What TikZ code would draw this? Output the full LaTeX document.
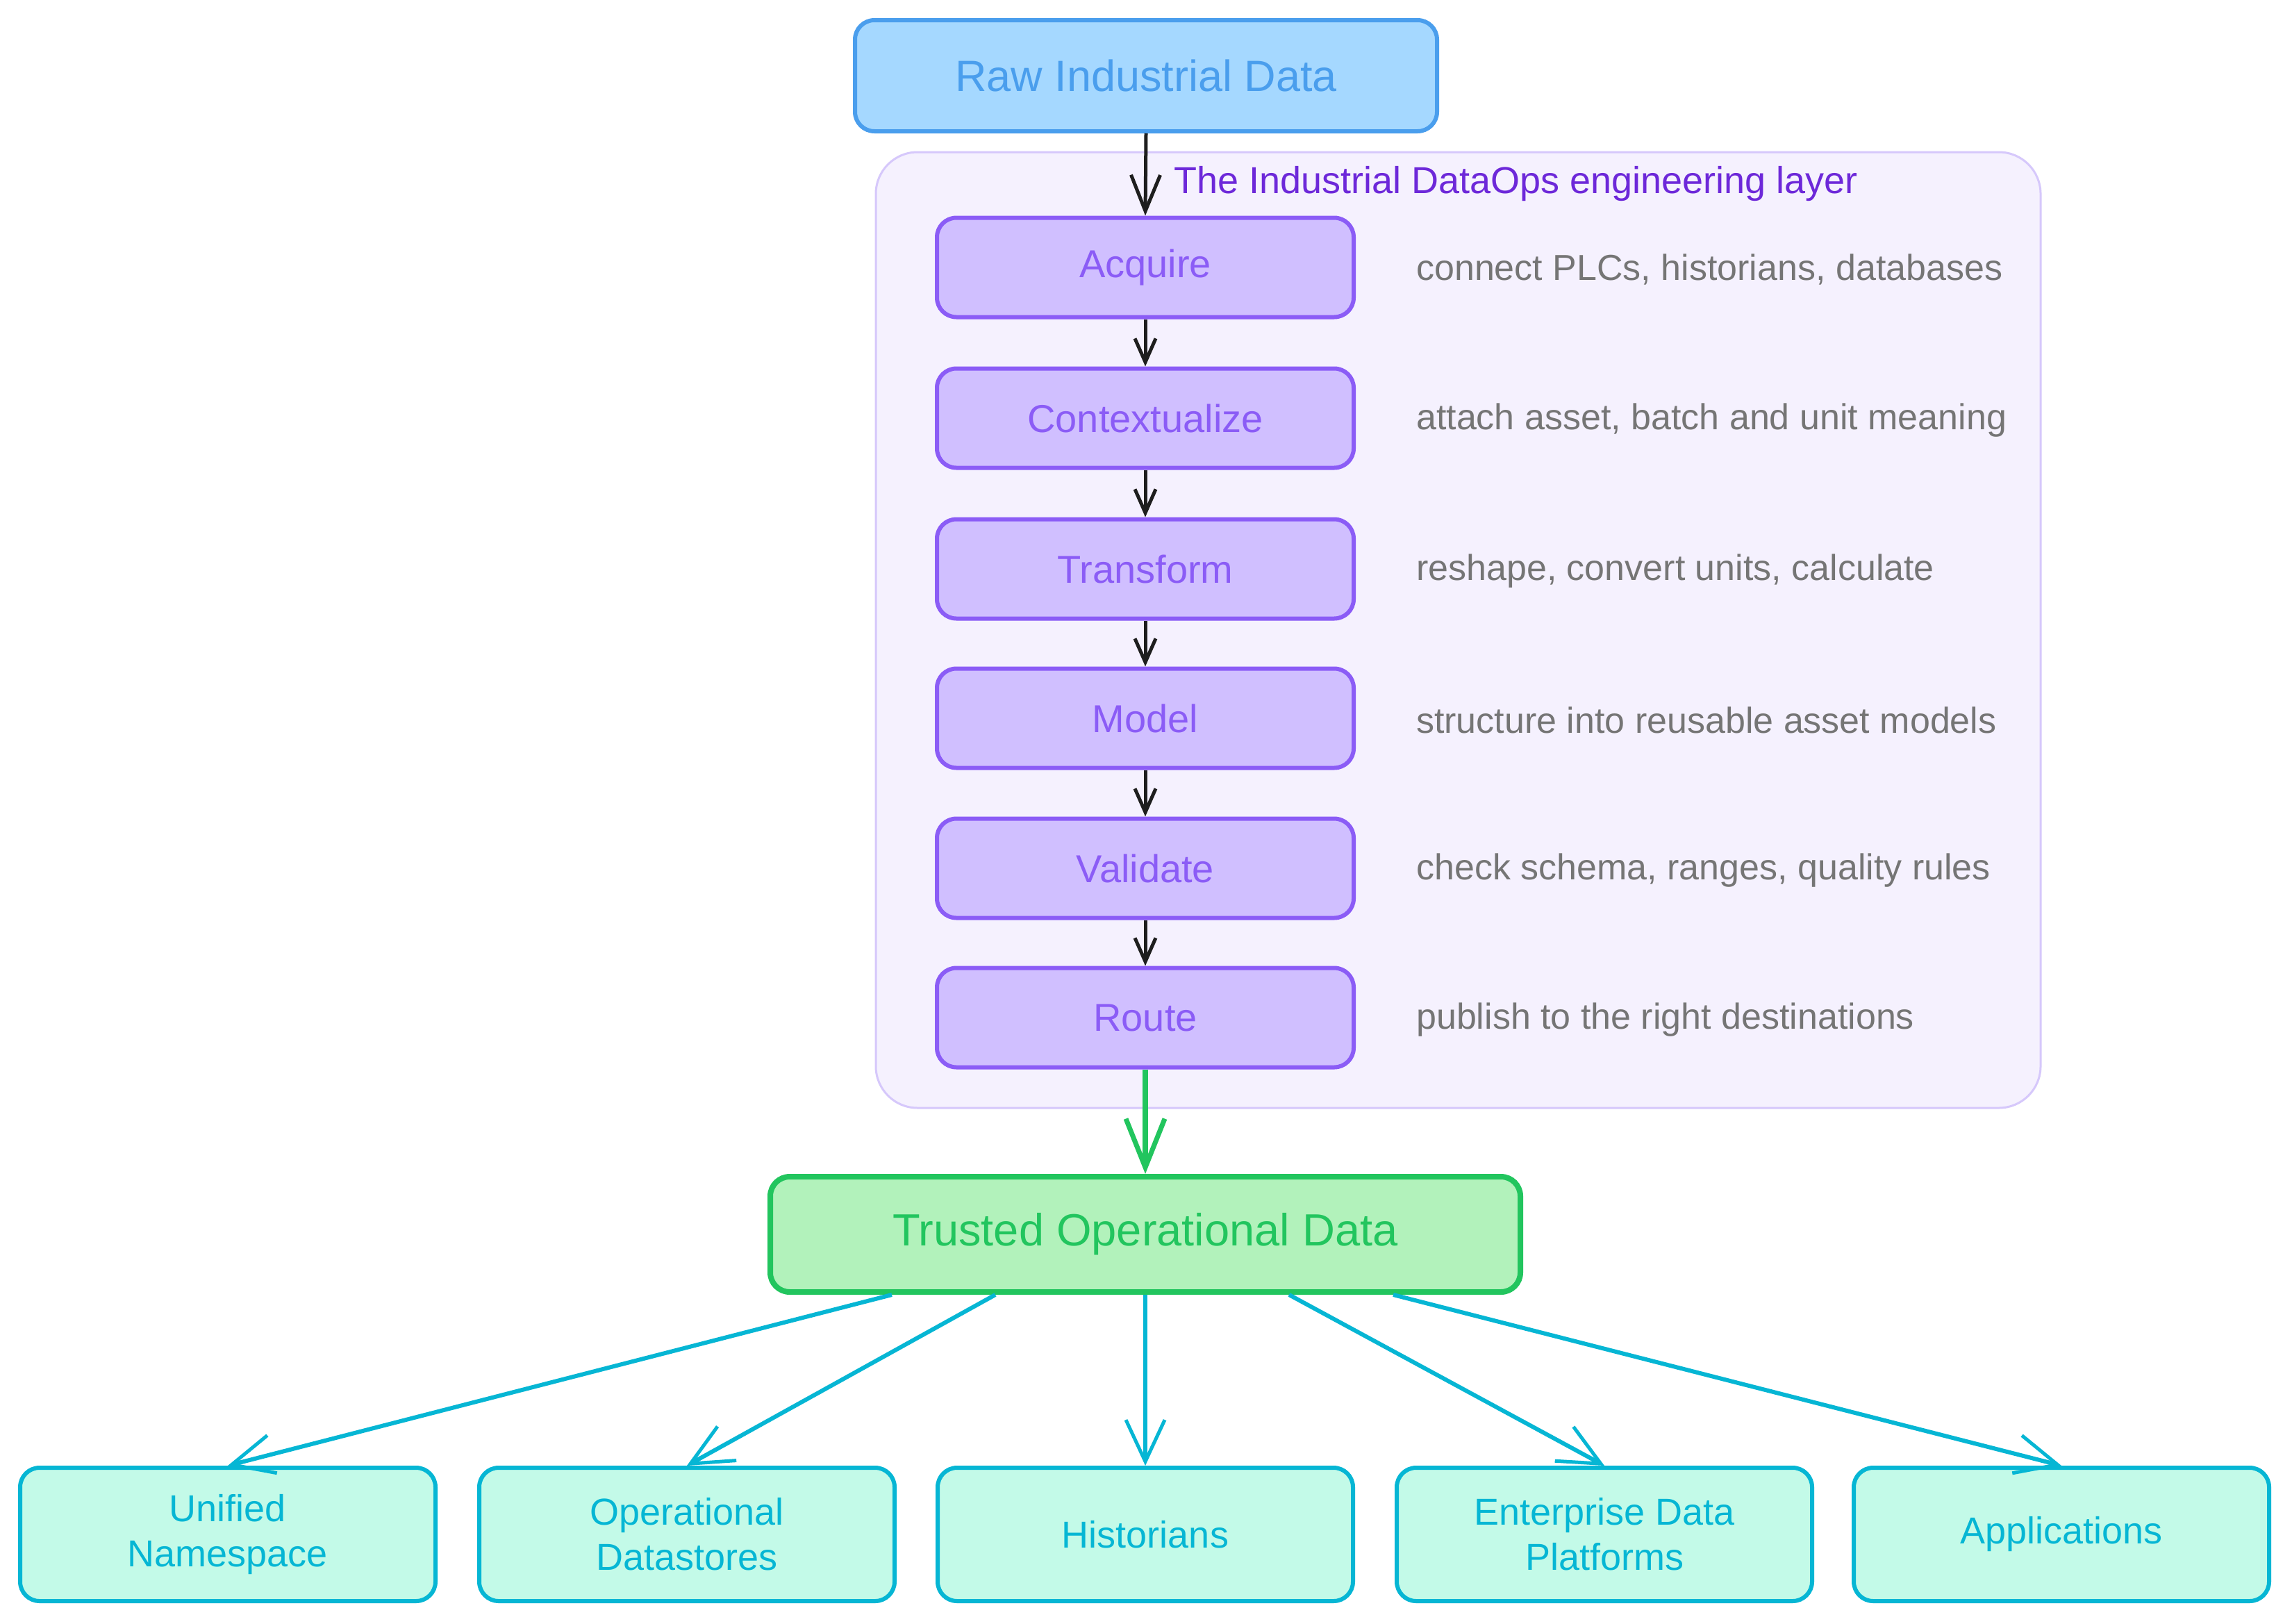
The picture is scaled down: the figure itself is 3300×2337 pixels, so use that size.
\documentclass[tikz,border=0pt]{standalone}
\usepackage{fontspec}
\setmainfont{Liberation Sans}
\usetikzlibrary{arrows.meta}
\definecolor{rawfill}{HTML}{A5D8FF}
\definecolor{rawline}{HTML}{4A9EED}
\definecolor{stepfill}{HTML}{D0BFFF}
\definecolor{stepline}{HTML}{8B5CF6}
\definecolor{grpfill}{HTML}{F5F1FE}
\definecolor{grpline}{HTML}{D6C8FB}
\definecolor{grptext}{HTML}{6D28D9}
\definecolor{trustfill}{HTML}{B2F2BB}
\definecolor{trustline}{HTML}{22C55E}
\definecolor{destfill}{HTML}{C3FAE8}
\definecolor{destline}{HTML}{06B6D4}
\definecolor{notetext}{HTML}{757575}
\definecolor{arrowblack}{HTML}{1E1E1E}
\begin{document}
\begin{tikzpicture}[x=1pt,y=-1pt,
  box/.style={rectangle, rounded corners=28pt, inner sep=0pt, align=center},
  rawbox/.style={box, fill=rawfill, draw=rawline, line width=6pt, minimum width=838pt, minimum height=160pt, text=rawline, font=\fontsize{63}{74}\selectfont},
  stepbox/.style={box, fill=stepfill, draw=stepline, line width=6pt, minimum width=600pt, minimum height=143pt, text=stepline, font=\fontsize{56}{66}\selectfont},
  trustbox/.style={box, fill=trustfill, draw=trustline, line width=8pt, minimum width=1080pt, minimum height=166pt, text=trustline, font=\fontsize{65}{76}\selectfont},
  destbox/.style={box, fill=destfill, draw=destline, line width=6pt, minimum width=598pt, minimum height=192pt, text=destline, font=\fontsize{54}{65}\selectfont},
  note/.style={anchor=west, inner sep=0pt, text=notetext, font=\fontsize{52}{62}\selectfont},
  grouplabel/.style={anchor=west, inner sep=0pt, text=grptext, font=\fontsize{54}{64}\selectfont},
  flowarrow/.style={draw=arrowblack, line width=5pt, -{Straight Barb[length=34pt,width=30pt,line width=5pt]}},
  bigarrow/.style={draw=arrowblack, line width=5pt, -{Straight Barb[length=52pt,width=42pt,line width=5pt]}},
  greenarrow/.style={draw=trustline, line width=8pt, -{Straight Barb[length=70pt,width=56pt,line width=7pt]}},
  cyanarrow/.style={draw=destline, line width=6pt, -{Straight Barb[length=60pt,width=56pt,line width=5pt]}}
]
\useasboundingbox (0,0) rectangle (3300,2337);
\fill[white] (0,0) rectangle (3300,2337);

% group container
\node[draw=grpline, fill=grpfill, line width=3pt, rounded corners=60pt, minimum width=1677pt, minimum height=1376pt, inner sep=0pt] (group) at (2099.5,907) {};
\node[grouplabel] (glabel) at (1690,265) {The Industrial DataOps engineering layer};

% top
\node[rawbox] (raw) at (1650,109) {Raw Industrial Data};

% steps
\node[stepbox] (acq) at (1649,385) {Acquire};
\node[stepbox] (ctx) at (1649,602) {Contextualize};
\node[stepbox] (trf) at (1649,819) {Transform};
\node[stepbox] (mdl) at (1649,1034) {Model};
\node[stepbox] (val) at (1649,1250) {Validate};
\node[stepbox] (rte) at (1649,1465) {Route};

% notes
\node[note] (n1) at (2039,388) {connect PLCs, historians, databases};
\node[note] (n2) at (2039,605) {attach asset, batch and unit meaning};
\node[note] (n3) at (2039,822) {reshape, convert units, calculate};
\node[note] (n4) at (2039,1037) {structure into reusable asset models};
\node[note] (n5) at (2039,1253) {check schema, ranges, quality rules};
\node[note] (n6) at (2039,1468) {publish to the right destinations};

% trusted
\node[trustbox] (trust) at (1649,1777) {Trusted Operational Data};

% destinations
\node[destbox] (d1) at (328,2209) {Unified\\Namespace};
\node[destbox] (d2) at (989,2209) {Operational\\Datastores};
\node[destbox] (d3) at (1649,2209) {Historians};
\node[destbox] (d4) at (2310,2209) {Enterprise Data\\Platforms};
\node[destbox] (d5) at (2968,2209) {Applications};

% connectors
\draw[bigarrow] (raw.south) -- (acq.north);
\draw[flowarrow] (acq.south) -- (ctx.north);
\draw[flowarrow] (ctx.south) -- (trf.north);
\draw[flowarrow] (trf.south) -- (mdl.north);
\draw[flowarrow] (mdl.south) -- (val.north);
\draw[flowarrow] (val.south) -- (rte.north);
\draw[greenarrow] (rte.south) -- (trust.north);

\draw[cyanarrow] ([xshift=179pt]trust.south west) -- (d1.north);
\draw[cyanarrow] ([xshift=328pt]trust.south west) -- (d2.north);
\draw[cyanarrow] (trust.south) -- (d3.north);
\draw[cyanarrow] ([xshift=751pt]trust.south west) -- (d4.north);
\draw[cyanarrow] ([xshift=901pt]trust.south west) -- (d5.north);
\end{tikzpicture}
\end{document}
